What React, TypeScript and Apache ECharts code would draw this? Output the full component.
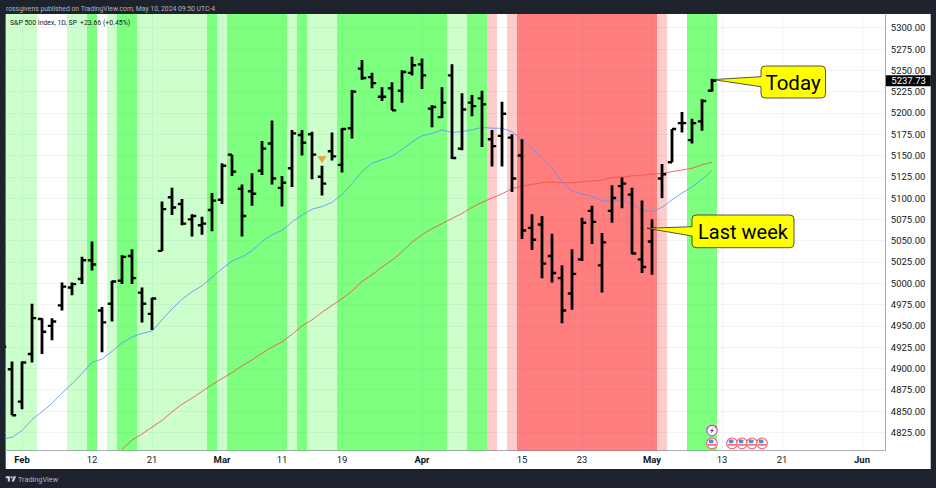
import React, { useEffect, useRef } from "react";
import * as echarts from "echarts";

const opens = [4911,4899,4861,4917,4958,4950,4974,4995,5005,5027,4968,4976,5003,5032,4989,4964,5038,5101,5093,5075,5068,5086,5098,5151,5111,5108,5132,5164,5112,5135,5174,5175,5125,5155,5139,5182,5252,5242,5219,5229,5226,5247,5257,5205,5195,5244,5158,5212,5217,5169,5173,5171,5150,5065,5069,5032,5006,4988,5028,5085,5021,5085,5114,5104,5028,5049,5123,5142,5188,5168,5190,5226];
const highs = [4931,4908,4908,4976,4959,4959,5001,5001,5031,5049,4972,5003,5033,5040,4995,4983,5096,5112,5099,5081,5078,5106,5141,5151,5116,5129,5167,5191,5126,5180,5180,5178,5138,5177,5182,5227,5262,5247,5230,5236,5250,5266,5264,5209,5230,5257,5223,5221,5226,5180,5213,5175,5169,5081,5079,5058,5021,5040,5077,5091,5059,5115,5124,5112,5097,5075,5140,5181,5201,5193,5216,5240];
const lows = [4906,4845,4852,4907,4917,4933,4968,4986,4999,5015,4919,4955,4999,4999,4954,4945,5038,5080,5068,5055,5057,5061,5093,5126,5055,5091,5127,5116,5090,5113,5150,5122,5103,5144,5130,5170,5239,5229,5214,5203,5212,5244,5228,5183,5194,5146,5156,5196,5160,5137,5137,5107,5052,5039,5006,5001,4953,4969,5026,5046,4989,5071,5088,5034,5012,5010,5100,5142,5177,5164,5179,5225];
const closes = [4925.5,4845,4907,4959,4943,4955,4996,4999,5027,5022,4954,5002,5031,5006,4976,4982,5087,5089,5070,5079,5070,5097,5138,5131,5079,5105,5158,5123,5118,5176,5165,5151,5117,5149,5181,5225,5241,5235,5219,5203,5248,5256,5244,5207,5212,5147,5204,5208,5210,5161,5199,5123,5062,5051,5023,5012,4968,5011,5071,5072,5048,5100,5117,5035,5019,5064,5128,5181,5188,5188,5214,5237.73];

const blueLine = [4817,4819,4827,4840,4849,4859,4871,4882,4894,4907,4911,4920,4930,4937,4941,4944,4957,4970,4981,4990,4997,5007,5017,5026,5031,5038,5049,5057,5062,5072,5080,5087,5090,5095,5104,5117,5131,5141,5145,5149,5157,5166,5173,5176,5180,5177,5178,5180,5183,5182,5182,5178,5168,5158,5148,5136,5119,5108,5105,5102,5097,5096,5098,5093,5086,5084,5089,5098,5106,5113,5122,5132];
const redLineStart = 12;
const redLine = [4805,4816,4823,4831,4839,4849,4858,4865,4873,4881,4888,4895,4903,4910,4918,4925,4931,4940,4950,4957,4966,4974,4982,4991,5002,5010,5019,5027,5037,5048,5057,5064,5070,5076,5082,5089,5095,5100,5105,5111,5114,5116,5118,5119,5118,5118,5119,5120,5121,5124,5125,5126,5127,5128,5129,5131,5133,5135,5139,5142];

const bandRanges = [[0,3,1],[7,8,1],[9,9,2],[11,11,1],[12,13,2],[14,20,1],[21,21,2],[22,22,1],[23,28,2],[29,29,1],[30,30,2],[31,33,1],[34,44,2],[45,46,1],[47,48,2],[49,49,3],[51,51,3],[52,65,4],[66,66,3],[69,71,2]];
const bandColors = ["", "rgba(0,255,0,0.2)", "rgba(0,255,0,0.5)", "rgba(255,0,0,0.2)", "rgba(255,0,0,0.5)"];

const yTicks = [4825,4850,4875,4900,4925,4950,4975,5000,5025,5050,5075,5100,5125,5150,5175,5200,5225,5250,5275,5300];
const xTickIndex = [2,9,15,22,28,34,42,52,58,65,72,78,86];
const xTickLabels = ["Feb","12","21","Mar","11","19","Apr","15","23","May","13","21","Jun"];
const monthLabels = ["Feb","Mar","Apr","May","Jun"];

const signalPoint = [[32, 5145]];
const flagDays = [71, 73, 74, 75, 76];
const flagPrice = 4812;
const boltPoint = [[71, 4827]];
const lastPrice = 5237.73;
const lastIndex = 71;

const FONT = "Roboto, sans-serif";

const todayPath = "M765 66H821.5Q825.5 66 825.5 70V94Q825.5 98 821.5 98H765Q761 98 761 94V86.7L713 79.6L761 76.7V70Q761 66 765 66Z";
const lastWeekPath = "M696 215H790Q794 215 794 219V243.7Q794 247.7 790 247.7H696Q692 247.7 692 243.7V236L647 228.3L692 226.7V219Q692 215 696 215Z";
const logoPath = "M14 22H7V11H0V4h14v18zM28 22h-8l7.5-18h8L28 22zM24 8a4 4 0 1 1-8 0a4 4 0 1 1 8 0z";

echarts.graphic.registerShape("calloutToday", echarts.graphic.extendPath(todayPath, {}));
echarts.graphic.registerShape("calloutLastWeek", echarts.graphic.extendPath(lastWeekPath, {}));
echarts.graphic.registerShape("tvLogo", echarts.graphic.extendPath(logoPath, {}));

export default function App() {
  const ref = useRef<HTMLDivElement>(null);
  useEffect(() => {
    document.body.style.margin = "0";
    document.body.style.background = "#1e222d";
    const chart = echarts.init(ref.current!, null, { renderer: "svg" });
    const option: any = {
      animation: false,
      backgroundColor: "#1e222d",
      textStyle: { fontFamily: FONT },
      grid: { left: 5.7, right: 50.7, top: 14, bottom: 37.3 },
      xAxis: {
        type: "value",
        min: 0.37,
        max: 88.33,
        axisLine: { show: true, onZero: false, lineStyle: { color: "#a9acb5", width: 1 } },
        axisTick: { show: false, customValues: xTickIndex },
        splitLine: { show: true, lineStyle: { color: "#f0f3fa", width: 1 } },
        axisLabel: {
          customValues: xTickIndex,
          margin: 4,
          color: "#131722",
          fontSize: 9.5,
          fontFamily: FONT,
          formatter: (v: number) => {
            const t = xTickLabels[xTickIndex.indexOf(v)] ?? "";
            return monthLabels.includes(t) ? `{b|${t}}` : t;
          },
          rich: { b: { fontWeight: "bold", fontSize: 9.5, color: "#131722", fontFamily: FONT } },
        },
      },
      yAxis: {
        type: "value",
        position: "right",
        min: 4803.4,
        max: 5316.1,
        axisLine: { show: true, onZero: false, lineStyle: { color: "#a9acb5", width: 1 } },
        axisTick: { show: false, customValues: yTicks },
        splitLine: { show: true, lineStyle: { color: "#f0f3fa", width: 1 } },
        axisLabel: {
          customValues: yTicks,
          margin: 5.5,
          color: "#131722",
          fontSize: 9.5,
          fontFamily: FONT,
          formatter: (v: number) => v.toFixed(2),
        },
      },
      graphic: [
        { type: "rect", z: -100, shape: { x: 5.7, y: 14, width: 925, height: 455 }, style: { fill: "#ffffff" } },
        { type: "text", x: 6, y: 8.5, style: { text: "rossgivens published on TradingView.com, May 10, 2024 09:50 UTC-4", fill: "#b2b5be", fontSize: 6.8, fontFamily: FONT, verticalAlign: "middle" } },
        { type: "text", x: 10, y: 22.5, z: 50, style: { text: "S&P 500 Index, 1D, SP", fill: "#131722", fontSize: 6.9, fontFamily: FONT, verticalAlign: "middle" } },
        { type: "text", x: 80, y: 22.5, z: 50, style: { text: "+23.66 (+0.45%)", fill: "#131722", fontSize: 6.9, fontFamily: FONT, verticalAlign: "middle" } },
        { type: "tvLogo", x: 5.8, y: 475, scaleX: 0.29, scaleY: 0.29, style: { fill: "#d1d4dc" } },
        { type: "text", x: 18, y: 479, style: { text: "TradingView", fill: "#b2b5be", fontSize: 7.3, fontFamily: FONT, verticalAlign: "middle" } },
        { type: "calloutToday", z: 60, style: { fill: "#ffff00", stroke: "#2a2a2a", lineWidth: 0.8 } },
        { type: "text", x: 793, y: 82.5, z: 61, style: { text: "Today", fill: "#000", fontSize: 20.5, fontFamily: FONT, align: "center", verticalAlign: "middle" } },
        { type: "calloutLastWeek", z: 60, style: { fill: "#ffff00", stroke: "#2a2a2a", lineWidth: 0.8 } },
        { type: "text", x: 743, y: 231.5, z: 61, style: { text: "Last week", fill: "#000", fontSize: 20, fontFamily: FONT, align: "center", verticalAlign: "middle" } },
      ],
      series: [
        {
          type: "custom",
          name: "bands",
          z: 1,
          clip: true,
          silent: true,
          data: bandRanges,
          encode: { x: [0, 1] },
          renderItem: (params: any, api: any) => {
            const cs = params.coordSys;
            const x0 = api.coord([api.value(0) - 0.5, 5000])[0];
            const x1 = api.coord([api.value(1) + 0.5, 5000])[0];
            return {
              type: "rect",
              shape: { x: x0, y: cs.y, width: x1 - x0, height: cs.height },
              style: { fill: bandColors[api.value(2)] },
            };
          },
        },
        {
          type: "line",
          name: "MA fast",
          z: 3,
          showSymbol: false,
          data: blueLine.map((v, i) => [i, v]),
          lineStyle: { color: "#5f93f5", width: 0.85 },
        },
        {
          type: "line",
          name: "MA slow",
          z: 3,
          showSymbol: false,
          data: redLine.map((v, i) => [i + redLineStart, v]),
          lineStyle: { color: "#f0504f", width: 0.85 },
        },
        {
          type: "custom",
          name: "S&P 500",
          z: 4,
          clip: true,
          silent: true,
          data: opens.map((o, i) => [i, o, highs[i], lows[i], closes[i]]),
          encode: { x: 0, y: [1, 2, 3, 4] },
          renderItem: (_: any, api: any) => {
            const i = api.value(0);
            const [x, yH] = api.coord([i, api.value(2)]);
            const yL = api.coord([i, api.value(3)])[1];
            const yO = api.coord([i, api.value(1)])[1];
            const yC = api.coord([i, api.value(4)])[1];
            const fill = { fill: "#000000" };
            return {
              type: "group",
              children: [
                { type: "rect", shape: { x: x - 1.4, y: yH, width: 2.8, height: yL - yH }, style: fill },
                { type: "rect", shape: { x: x - 4.2, y: yO - 1.2, width: 4.2, height: 2.4 }, style: fill },
                { type: "rect", shape: { x, y: yC - 1.2, width: 4.2, height: 2.4 }, style: fill },
              ],
            };
          },
        },
        {
          type: "scatter",
          name: "signal",
          z: 5,
          silent: true,
          symbol: "triangle",
          symbolRotate: 180,
          symbolSize: [9, 7],
          itemStyle: { color: "#f28c1c" },
          data: signalPoint,
        },
        {
          type: "custom",
          name: "flags",
          z: 5,
          clip: false,
          silent: true,
          data: flagDays.map((d) => [d, flagPrice]),
          encode: { x: 0, y: 1 },
          renderItem: (_: any, api: any) => {
            const [x, y] = api.coord([api.value(0), api.value(1)]);
            return {
              type: "group",
              children: [
                { type: "circle", shape: { cx: x, cy: y, r: 5.3 }, style: { fill: "#ffffff", stroke: "#f4646f", lineWidth: 1.1 } },
                { type: "rect", shape: { x: x - 3.2, y: y - 3.8, width: 4.6, height: 3.6, r: 1 }, style: { fill: "#4a8fe0" } },
                { type: "rect", shape: { x: x - 4, y: y + 0.8, width: 8, height: 1.4 }, style: { fill: "#f0505a" } },
              ],
            };
          },
        },
        {
          type: "custom",
          name: "bolt",
          z: 5,
          clip: false,
          silent: true,
          data: boltPoint,
          encode: { x: 0, y: 1 },
          renderItem: (_: any, api: any) => {
            const [x, y] = api.coord([api.value(0), api.value(1)]);
            return {
              type: "group",
              children: [
                { type: "circle", shape: { cx: x, cy: y, r: 5.2 }, style: { fill: "#ffffff", stroke: "#ab47bc", lineWidth: 1.1 } },
                { type: "polygon", shape: { points: [[x + 1, y - 3.2], [x - 2, y + 0.6], [x - 0.2, y + 0.6], [x - 1, y + 3.2], [x + 2, y - 0.6], [x + 0.2, y - 0.6]] }, style: { fill: "#9c27b0" } },
                { type: "circle", shape: { cx: x + 3.6, cy: y - 3.9, r: 1.5 }, style: { fill: "#f23645", stroke: "#ffffff", lineWidth: 0.5 } },
              ],
            };
          },
        },
        {
          type: "custom",
          name: "last price",
          z: 6,
          clip: false,
          silent: true,
          data: [[lastIndex, lastPrice]],
          encode: { x: 0, y: 1 },
          renderItem: (params: any, api: any) => {
            const y = api.coord([api.value(0), api.value(1)])[1];
            const cs = params.coordSys;
            const left = cs.x + cs.width + 0.5;
            return {
              type: "group",
              children: [
                { type: "rect", shape: { x: left, y: y - 5.5, width: 45, height: 11 }, style: { fill: "#000000" } },
                { type: "text", x: left + 5.5, y, style: { text: api.value(1).toFixed(2), fill: "#ffffff", fontSize: 9.5, fontFamily: FONT, verticalAlign: "middle" } },
              ],
            };
          },
        },
      ],
    };
    chart.setOption(option);
    return () => chart.dispose();
  }, []);
  return <div ref={ref} style={{ width: 936, height: 488 }} />;
}
